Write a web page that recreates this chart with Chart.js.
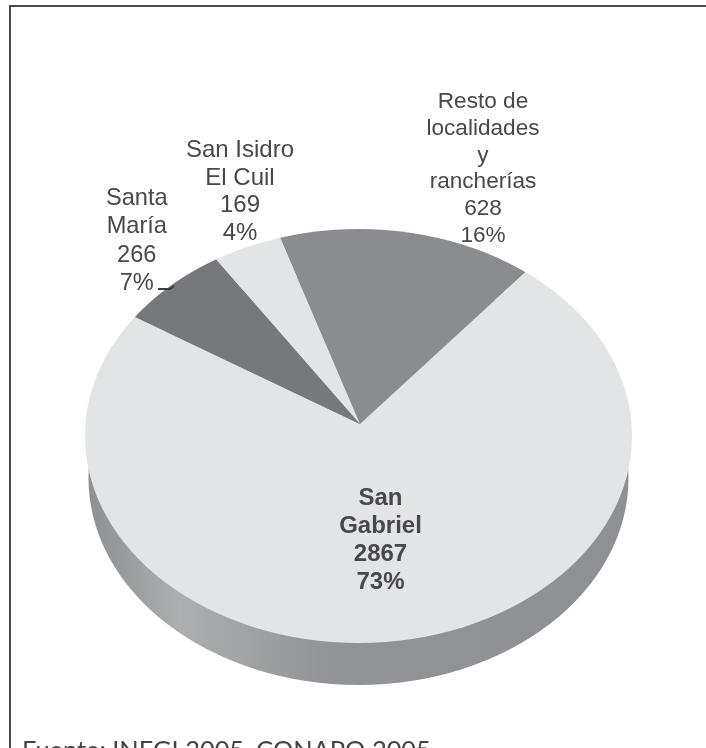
<!DOCTYPE html>
<html>
<head>
<meta charset="utf-8">
<title>Población por localidad</title>
<script src="https://cdn.jsdelivr.net/npm/chart.js@4"></script>
<style>
  html, body { margin: 0; padding: 0; background: #fff; overflow: hidden; }
  #wrap { position: relative; width: 706px; height: 748px; overflow: hidden; }
  #frame { position: absolute; left: 9px; top: 5px; width: 720px; height: 800px; border: 2.5px solid #4a4a4b; }
  #source { position: absolute; left: 22px; top: 734px; font: 25.4px Lato, sans-serif; color: #444; white-space: nowrap; }
  #myChart { position: absolute; left: 0; top: 0; }
</style>
</head>
<body>
<div id="wrap">
  <div id="frame"></div>
  <canvas id="myChart" width="706" height="748"></canvas>
  <div id="source">Fuente: INEGI 2005, CONAPO 2005</div>
</div>
<script>
const categories = ['Resto de localidades y rancherías', 'San Gabriel', 'Santa María', 'San Isidro El Cuil'];
const values = [628, 2867, 266, 169];
const percents = ['16%', '73%', '7%', '4%'];
const sliceColors = ['#8b8c8f', '#e3e4e6', '#77787b', '#e3e4e6'];
const nameLines = [
  ['Resto de', 'localidades', 'y', 'rancherías'],
  ['San', 'Gabriel'],
  ['Santa', 'María'],
  ['San Isidro', 'El Cuil']
];

// where the picture sits on the page
const apex = { x: 360, y: 424 };
const top_ = { cx: 358.5, cy: 436, rx: 273.5, ry: 207 };
const base = { cx: 358.5, cy: 478, rx: 270, ry: 207 };
const squash = 0.757;
const labelSpots = [
  { x: 483, y: 108.3, step: 26.7, size: 22.6 },
  { x: 380.5, y: 505, step: 28, size: 24, bold: true },
  { x: 136.8, y: 205, step: 28.4, size: 23.6 },
  { x: 240, y: 156.7, step: 27.8, size: 24 }
];

// the library only draws flat circles, so tilt them here and add the rim
const tiltPie = {
  id: 'tiltPie',
  beforeDatasetsDraw(chart) {
    const ctx = chart.ctx;
    const first = chart.getDatasetMeta(0).data[0];

    const grad = ctx.createLinearGradient(base.cx - base.rx, 0, base.cx + base.rx, 0);
    grad.addColorStop(0, '#8e8f92');
    grad.addColorStop(0.17, '#adaeb0');
    grad.addColorStop(0.45, '#929396');
    grad.addColorStop(1, '#8f9093');
    ctx.save();
    ctx.fillStyle = grad;
    ctx.beginPath();
    ctx.ellipse(base.cx, base.cy, base.rx, base.ry, 0, 0, Math.PI * 2);
    ctx.fill();
    ctx.restore();

    ctx.save();
    ctx.beginPath();
    ctx.ellipse(top_.cx, top_.cy, top_.rx, top_.ry, 0, 0, Math.PI * 2);
    ctx.clip();
    const k = 300 / first.outerRadius;
    ctx.translate(apex.x, apex.y);
    ctx.scale(k, k * squash);
    ctx.translate(-first.x, -first.y);
  },
  afterDatasetsDraw(chart) {
    const ctx = chart.ctx;
    ctx.restore();

    // small leader for Santa María
    ctx.save();
    ctx.strokeStyle = '#3a3a3c';
    ctx.lineWidth = 1.8;
    ctx.beginPath();
    ctx.moveTo(158, 289);
    ctx.lineTo(170, 289);
    ctx.lineTo(174, 286);
    ctx.stroke();
    ctx.restore();

    ctx.save();
    ctx.fillStyle = '#48484a';
    ctx.textAlign = 'center';
    ctx.textBaseline = 'alphabetic';
    categories.forEach((name, i) => {
      const spot = labelSpots[i];
      ctx.font = (spot.bold ? 'bold ' : '') + spot.size + 'px "Liberation Sans", Arial, sans-serif';
      const lines = nameLines[i].concat([String(values[i]), percents[i]]);
      lines.forEach((line, j) => ctx.fillText(line, spot.x, spot.y + j * spot.step));
    });
    ctx.restore();
  }
};

new Chart(document.getElementById('myChart').getContext('2d'), {
  type: 'pie',
  data: {
    labels: categories,
    datasets: [{
      data: values,
      backgroundColor: sliceColors,
      borderWidth: 0,
      clip: false
    }]
  },
  options: {
    responsive: false,
    animation: false,
    rotation: -18,
    events: [],
    plugins: {
      legend: { display: false },
      tooltip: { enabled: false }
    }
  },
  plugins: [tiltPie]
});
</script>
</body>
</html>
